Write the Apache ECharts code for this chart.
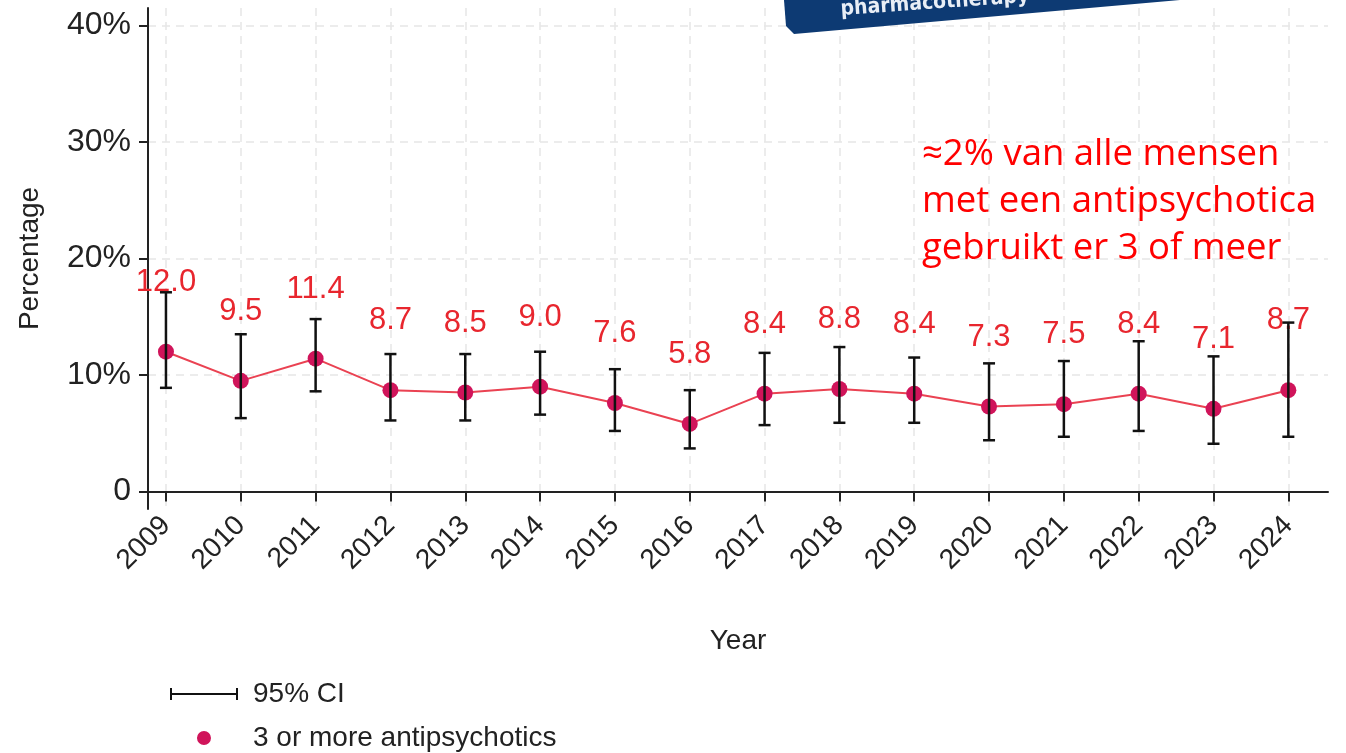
<!DOCTYPE html>
<html>
<head>
<meta charset="utf-8">
<script src="https://cdn.jsdelivr.net/npm/echarts@6/dist/echarts.min.js"></script>
<style>
  html, body { margin: 0; padding: 0; background: #fff; }
  #main { width: 1346px; height: 753px; }
</style>
</head>
<body>
<div id="main"></div>
<script>
// jaren en percentages (3 of meer antipsychotica)
var years = [2009, 2010, 2011, 2012, 2013, 2014, 2015, 2016, 2017, 2018, 2019, 2020, 2021, 2022, 2023, 2024];
var pct = [12.0, 9.5, 11.4, 8.7, 8.5, 9.0, 7.6, 5.8, 8.4, 8.8, 8.4, 7.3, 7.5, 8.4, 7.1, 8.7];
var ciLow = [8.9, 6.3, 8.6, 6.1, 6.1, 6.6, 5.2, 3.7, 5.7, 5.9, 5.9, 4.4, 4.7, 5.2, 4.1, 4.7];
var ciHigh = [17.1, 13.5, 14.8, 11.8, 11.8, 12.0, 10.5, 8.7, 11.9, 12.4, 11.5, 11.0, 11.2, 12.9, 11.6, 14.5];
var yTicks = [0, 10, 20, 30, 40];

var chart = echarts.init(document.getElementById('main'));

var lineData = years.map(function (y, i) { return [y, pct[i]]; });
var ciData = years.map(function (y, i) { return [y, ciLow[i], ciHigh[i]]; });

var font = 'Liberation Sans, Arial, sans-serif';

var option = {
    backgroundColor: '#fff',
    animation: false,
    textStyle: { fontFamily: font },
    grid: { left: 148, right: 18, top: 8, bottom: 244 },
    xAxis: {
        type: 'value',
        min: 2008.76,
        max: 2024.53,
        name: 'Year',
        nameLocation: 'middle',
        nameGap: 118,
        nameTextStyle: { fontSize: 28, color: '#222', fontFamily: font },
        axisLine: { show: true, lineStyle: { color: '#222', width: 2 } },
        axisTick: { show: true, length: 10, lineStyle: { color: '#222', width: 2 }, customValues: years },
        axisLabel: {
            customValues: years,
            rotate: 45,
            fontSize: 28,
            color: '#222',
            margin: 12,
            formatter: function (v) { return String(v); }
        },
        splitLine: { show: true, lineStyle: { color: '#e6e6e6', type: [8, 6], width: 1.5 } }
    },
    yAxis: {
        type: 'value',
        min: -1.5,
        max: 41.5,
        name: 'Percentage',
        nameLocation: 'middle',
        nameGap: 104,
        nameTextStyle: { fontSize: 28, color: '#222', fontFamily: font },
        axisLine: { show: true, lineStyle: { color: '#222', width: 2 } },
        axisTick: { show: true, length: 9, lineStyle: { color: '#222', width: 2 }, customValues: yTicks },
        axisLabel: {
            customValues: yTicks,
            fontSize: 32,
            color: '#222',
            margin: 17,
            formatter: function (v) { return v === 0 ? '0' : v + '%'; }
        },
        splitLine: { show: true, lineStyle: { color: '#e6e6e6', type: [8, 6], width: 1.5 } }
    },
    legend: {
        orient: 'vertical',
        left: 170,
        top: 680,
        height: 80,
        itemWidth: 68,
        itemHeight: 14,
        itemGap: 16,
        padding: 0,
        textStyle: { fontSize: 28, color: '#222', fontFamily: font, padding: [0, 0, 0, 10] },
        data: [
            {
                name: '95% CI',
                icon: 'path://M0,1L2,1L2,6L66,6L66,1L68,1L68,13L66,13L66,8L2,8L2,13L0,13Z',
                itemStyle: { color: '#111' }
            },
            {
                name: '3 or more antipsychotics',
                icon: 'path://M0,0M68,14M34,0A7,7,0,1,1,33.99,0Z',
                itemStyle: { color: '#d0145a' }
            }
        ]
    },
    series: [
        {
            name: '3 or more antipsychotics',
            type: 'line',
            data: lineData,
            symbol: 'circle',
            symbolSize: 16,
            z: 2,
            lineStyle: { color: '#ea4252', width: 2 },
            itemStyle: { color: '#d0145a' },
            label: {
                show: true,
                position: 'top',
                distance: 46,
                fontSize: 31,
                color: '#e8262e',
                fontFamily: font,
                formatter: function (p) { return p.value[1].toFixed(1); }
            }
        },
        {
            name: '95% CI',
            type: 'custom',
            data: ciData,
            z: 3,
            encode: { x: 0, y: [1, 2] },
            renderItem: function (params, api) {
                var x = api.value(0);
                var lo = api.coord([x, api.value(1)]);
                var hi = api.coord([x, api.value(2)]);
                var w = 6;
                var st = { stroke: '#111', lineWidth: 2.5 };
                return {
                    type: 'group',
                    children: [
                        { type: 'line', shape: { x1: lo[0], y1: lo[1], x2: hi[0], y2: hi[1] }, style: st },
                        { type: 'line', shape: { x1: lo[0] - w, y1: lo[1], x2: lo[0] + w, y2: lo[1] }, style: st },
                        { type: 'line', shape: { x1: hi[0] - w, y1: hi[1], x2: hi[0] + w, y2: hi[1] }, style: st }
                    ]
                };
            }
        }
    ],
    graphic: [
        {
            type: 'polygon',
            z: 100,
            shape: { points: [[784, 0], [786, 26], [794, 34], [1180, 0]] },
            style: { fill: '#0d3a73' }
        },
        {
            type: 'text',
            z: 101,
            x: 840,
            y: -1,
            rotation: 0.07,
            style: {
                text: 'pharmacotherapy',
                fill: '#e8eef6',
                font: 'bold 21px "DejaVu Sans Condensed", sans-serif'
            }
        },
        {
            type: 'text',
            z: 100,
            left: 922,
            top: 131,
            style: {
                text: '≈2% van alle mensen\nmet een antipsychotica\ngebruikt er 3 of meer',
                fill: '#ff0000',
                font: '36.5px "Open Sans", sans-serif',
                lineHeight: 47
            }
        }
    ]
};

chart.setOption(option);
</script>
</body>
</html>
